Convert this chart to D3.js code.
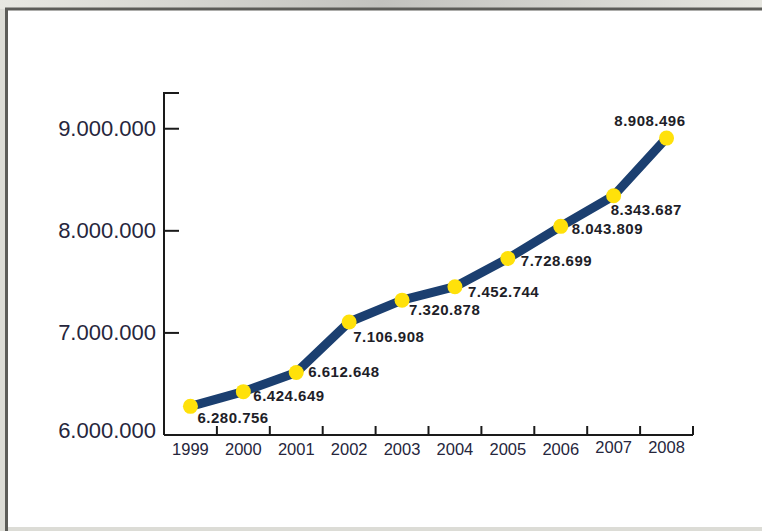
<!DOCTYPE html>
<html lang="es">
<head>
<meta charset="UTF-8">
<title>Evolución 1999-2008</title>
<style>
  html, body { margin: 0; padding: 0; background: #d6d6d0; }
  svg { display: block; }
  .axis-y text { font-family: 'Liberation Sans', Arial, sans-serif; font-size: 22px; fill: #26263c; }
  .axis-x text { font-family: 'Liberation Sans', Arial, sans-serif; font-size: 16.5px; fill: #26263c; }
  .value { font-family: 'Liberation Sans', Arial, sans-serif; font-size: 15px; font-weight: bold; fill: #1e1e28; letter-spacing: 0.5px; }
  .line { fill: none; stroke: #1b3f70; stroke-width: 9px; stroke-linejoin: round; stroke-linecap: round; }
  .dot { fill: #ffe10a; }
</style>
</head>
<body>
<svg id="chart" width="762" height="531" viewBox="0 0 762 531"></svg>

<script src="https://d3js.org/d3.v7.min.js"></script>
<script>

const years = ["1999", "2000", "2001", "2002", "2003", "2004", "2005", "2006", "2007", "2008"];
const values = [6280756, 6424649, 6612648, 7106908, 7320878, 7452744, 7728699, 8043809, 8343687, 8908496];
const yTicks = [6000000, 7000000, 8000000, 9000000];

// label nudges relative to each dot, [dx, dy, anchor]
const labelNudge = [
  [7, 17, "start"], [10, 9, "start"], [12, 5, "start"], [4, 20, "start"], [7, 15, "start"],
  [13, 10, "start"], [13, 7, "start"], [11, 8, "start"], [-3, 19, "start"], [19, -12, "end"]
];

const svg = d3.select("#chart");

// frame
const bg = svg.append("defs").append("linearGradient").attr("id", "topbar");
bg.append("stop").attr("offset", "0%").attr("stop-color", "#e8e8e2");
bg.append("stop").attr("offset", "50%").attr("stop-color", "#c2c2be");
bg.append("stop").attr("offset", "100%").attr("stop-color", "#e6e6e0");
svg.append("rect").attr("width", 762).attr("height", 531).attr("fill", "#dcdcd6");
svg.append("rect").attr("width", 762).attr("height", 9).attr("fill", "url(#topbar)");
svg.append("rect").attr("x", 8).attr("y", 10).attr("width", 754).attr("height", 517).attr("fill", "#fff");
svg.append("path").attr("d", "M6.5,531V9H762").attr("fill", "none").attr("stroke", "#5c5c58").attr("stroke-width", 3);

const x = d3.scaleBand().domain(years).range([164, 693]);
const y = d3.scaleLinear().domain([6000000, 9350000]).range([435, 93]);

const fmt = d3.formatLocale({ decimal: ",", thousands: ".", grouping: [3], currency: ["", ""] }).format(",d");

// y axis
const gy = svg.append("g").attr("class", "axis-y");
gy.append("path")
  .attr("d", "M179," + y.range()[1] + "H164V" + y.range()[0])
  .attr("fill", "none").attr("stroke", "#1a1a1a").attr("stroke-width", 2);
gy.selectAll("line").data(yTicks.slice(1)).join("line")
  .attr("x1", 164).attr("x2", 179)
  .attr("y1", d => y(d)).attr("y2", d => y(d))
  .attr("stroke", "#1a1a1a").attr("stroke-width", 2);
gy.selectAll("text").data(yTicks).join("text")
  .attr("x", 156).attr("y", (d, i) => y(d) + (i === 0 ? 3 : 7))
  .attr("text-anchor", "end")
  .text(d => fmt(d));

// x axis
const gx = svg.append("g").attr("class", "axis-x");
gx.append("line")
  .attr("x1", x.range()[0]).attr("x2", x.range()[1])
  .attr("y1", y(6000000)).attr("y2", y(6000000))
  .attr("stroke", "#1a1a1a").attr("stroke-width", 2);
gx.selectAll("line.tick").data(years).join("line")
  .attr("class", "tick")
  .attr("x1", d => x(d) + x.bandwidth()).attr("x2", d => x(d) + x.bandwidth())
  .attr("y1", y(6000000)).attr("y2", y(6000000) - 9)
  .attr("stroke", "#1a1a1a").attr("stroke-width", 2);
gx.selectAll("text").data(years).join("text")
  .attr("x", d => x(d) + x.bandwidth() / 2)
  .attr("y", (d, i) => y(6000000) + (i >= 8 ? 18 : 20))
  .attr("text-anchor", "middle")
  .text(d => d);

// line + dots
const pts = years.map((yr, i) => ({ year: yr, value: values[i] }));
const cx = d => x(d.year) + x.bandwidth() / 2;

svg.append("path")
  .datum(pts)
  .attr("class", "line")
  .attr("d", d3.line().x(cx).y(d => y(d.value)));

svg.selectAll("circle.dot").data(pts).join("circle")
  .attr("class", "dot")
  .attr("cx", cx).attr("cy", d => y(d.value))
  .attr("r", 7.5);

svg.selectAll("text.value").data(pts).join("text")
  .attr("class", "value")
  .attr("x", (d, i) => cx(d) + labelNudge[i][0])
  .attr("y", (d, i) => y(d.value) + labelNudge[i][1])
  .attr("text-anchor", (d, i) => labelNudge[i][2])
  .text(d => fmt(d.value));

</script>
</body>
</html>
